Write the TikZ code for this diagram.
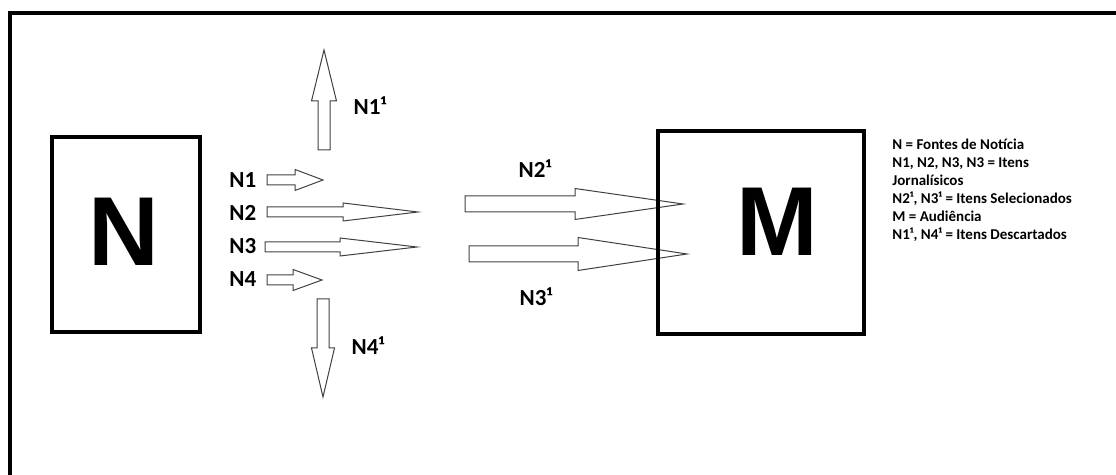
\documentclass[tikz,border=0pt]{standalone}
\usepackage{fontspec}
\setmainfont{Carlito}
\newfontfamily\letterfont{Liberation Sans}
\usetikzlibrary{positioning}

% block arrows: tail, head base, tip, centre line, shaft and head half widths
\newcommand{\rightblock}[6]{%
  \draw[blockarrow] (#1,#4-#5) -- (#2,#4-#5) -- (#2,#4-#6) -- (#3,#4)
    -- (#2,#4+#6) -- (#2,#4+#5) -- (#1,#4+#5) -- cycle;}
\newcommand{\vertblock}[6]{%
  \draw[blockarrow] (#4-#5,#1) -- (#4-#5,#2) -- (#4-#6,#2) -- (#4,#3)
    -- (#4+#6,#2) -- (#4+#5,#2) -- (#4+#5,#1) -- cycle;}

\begin{document}
\begin{tikzpicture}[
  x=0.5pt, y=-0.5pt,
  blockarrow/.style={draw=black!75, line width=0.5pt},
  bigbox/.style={draw, line width=2pt},
  bigletter/.style={font=\letterfont\bfseries\fontsize{49}{49}\selectfont, inner sep=0},
  itemlabel/.style={font=\bfseries\fontsize{11.5}{14}\selectfont, inner sep=0},
  legend/.style={font=\bfseries\fontsize{7.5}{9}\selectfont, align=left, inner sep=0}
]
\useasboundingbox (0,0) rectangle (1116,475);
\draw[line width=2pt] (10,475) -- (10,13) -- (1116,13);

% arrows
\rightblock{267}{295}{323}{180}{5}{10.5}
\rightblock{267}{343}{418}{212}{5}{9}
\rightblock{265}{340}{417}{247}{5}{9}
\rightblock{267}{293}{322}{280}{5}{10.5}
\vertblock{150}{101}{50}{324}{6}{12.5}
\vertblock{299}{348}{397}{323}{6}{11.5}
\rightblock{465}{575}{683}{204}{8}{15.5}
\rightblock{469}{578}{687}{254}{8}{16.5}

% boxes
\draw[bigbox] (52,137) rectangle (200,332);
\node[bigletter] (n) at (124,232) {N};
\draw[bigbox] (658,131) rectangle (864,334);
\node[bigletter] (m) at (777,222) {M};

% labels
\node[itemlabel, anchor=west] (n1) at (229,180) {N1};
\node[itemlabel, anchor=west] (n2) at (229,213) {N2};
\node[itemlabel, anchor=west] (n3) at (229,246) {N3};
\node[itemlabel, anchor=west] (n4) at (229,279) {N4};
\node[itemlabel] (n1d) at (370,106) {N1¹};
\node[itemlabel] (n4d) at (368,346) {N4¹};
\node[itemlabel] (n2s) at (535,169) {N2¹};
\node[itemlabel] (n3s) at (536,297) {N3¹};

\node[legend, anchor=north west] (key) at (892,139) {N = Fontes de Notícia\\
N1, N2, N3, N3 = Itens\\
Jornalísicos\\
N2¹, N3¹ = Itens Selecionados\\
M = Audiência\\
N1¹, N4¹ = Itens Descartados};
\end{tikzpicture}
\end{document}
